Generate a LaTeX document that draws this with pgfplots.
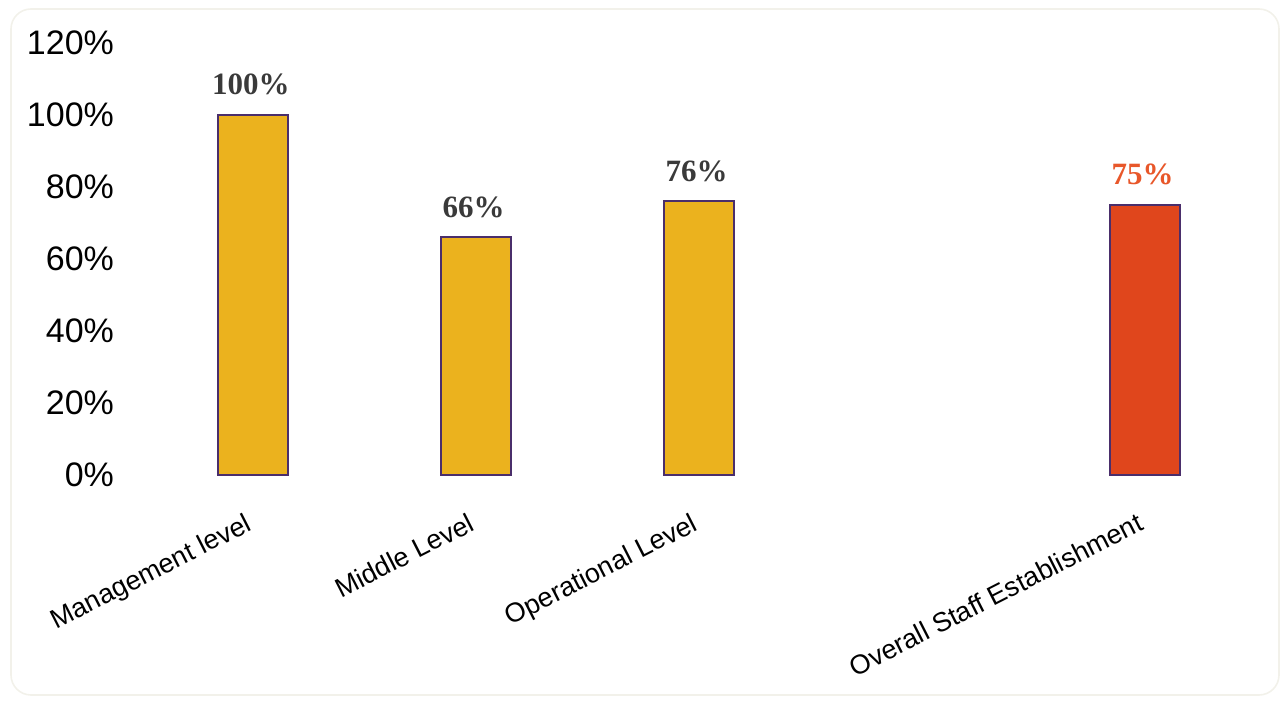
\documentclass[border=0pt]{standalone}
\usepackage{pgfplots}
\pgfplotsset{compat=1.18}
\usepackage{fontspec}
\setmainfont{Liberation Sans}
\newfontfamily\serifbold{Liberation Serif}
\definecolor{gold}{HTML}{EBB21E}
\definecolor{redbar}{HTML}{E0461C}
\definecolor{edge}{HTML}{4A2E6B}
\definecolor{redlab}{HTML}{E8572A}
\definecolor{graylab}{HTML}{3A3A3A}
\begin{document}
\begin{tikzpicture}
\useasboundingbox (-62.5pt,-114.5pt) rectangle (581.5pt,237.5pt);
\draw[rounded corners=10pt, color=yellow!20!gray!15, line width=0.8pt] (-57pt,-110pt) rectangle (577pt,233pt);
\begin{axis}[
  at={(0,0)}, anchor=south west,
  scale only axis,
  width=563pt, height=216pt,
  xmin=-0.573, xmax=4.477,
  ymin=0, ymax=120,
  ybar, bar width=35pt, bar shift=0pt,
  axis line style={draw=none},
  tick style={draw=none},
  ytick={0,20,...,120},
  yticklabel={\pgfmathprintnumber{\tick}\%},
  /pgf/number format/assume math mode=true,
  yticklabel style={font=\fontsize{17}{20}\selectfont, color=black, xshift=-2pt},
  xtick={0,1,2,4},
  xticklabels={Management level, Middle Level, Operational Level, Overall Staff Establishment},
  xticklabel style={font=\fontsize{13.5}{16}\selectfont, xshift=-2.7pt, yshift=-9.5pt, rotate=27, anchor=north east},
  nodes near coords={\pgfmathprintnumber{\pgfplotspointmeta}\%},
  nodes near coords style={font=\serifbold\bfseries\fontsize{15.5}{18}\selectfont, yshift=6pt, xshift=-1pt},
  clip=false,
]
\addplot[fill=gold, draw=edge, line width=1pt, nodes near coords style={color=graylab}]
  coordinates {(0,100) (1,66) (2,76)};
\addplot[fill=redbar, draw=edge, line width=1pt, nodes near coords style={color=redlab}]
  coordinates {(4,75)};
\end{axis}
\end{tikzpicture}
\end{document}
